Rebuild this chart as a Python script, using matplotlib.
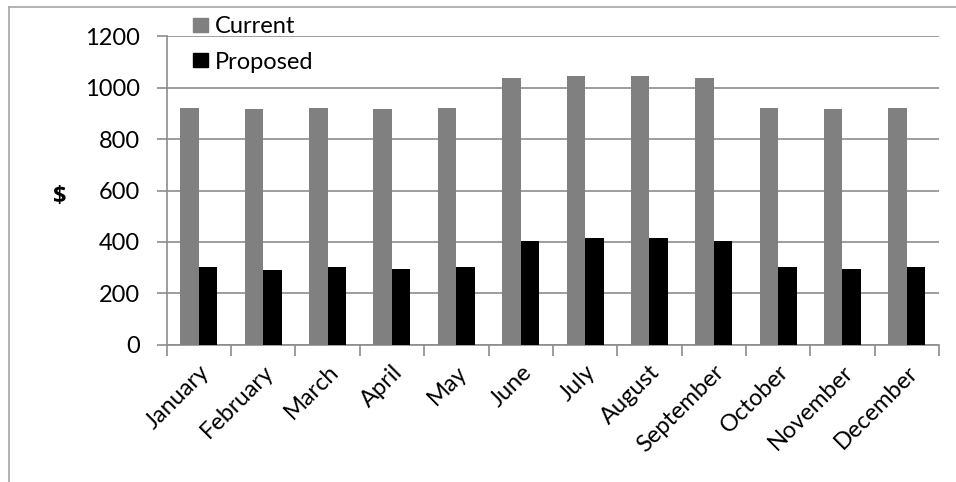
import matplotlib
matplotlib.use("Agg")
import matplotlib.pyplot as plt
import numpy as np
from matplotlib.lines import Line2D
from matplotlib.patches import Patch

plt.rcParams['font.family'] = ['Lato', 'DejaVu Sans']

months = ["January", "February", "March", "April", "May", "June", "July",
          "August", "September", "October", "November", "December"]
current = [922, 916, 922, 917, 922, 1039, 1047, 1047, 1036, 922, 917, 922]
proposed = [302, 289, 302, 294, 302, 402, 416, 416, 403, 302, 294, 302]
y_ticks = [0, 200, 400, 600, 800, 1000, 1200]

grid_gray = "#8c8c8c"
bar_gray = "#808080"
fs = 17

fig = plt.figure(figsize=(9.56, 4.82), dpi=100)
ax = fig.add_axes([0.1744, 0.2848, 0.9822 - 0.1744, 0.9247 - 0.2848])

x = np.arange(len(months))
w = 0.287
ax.bar(x - w / 2, current, width=w, color=bar_gray, zorder=3, label="Current")
ax.bar(x + w / 2, proposed, width=w, color="black", zorder=3, label="Proposed")

ax.set_xlim(-0.5, len(months) - 0.5)
ax.set_ylim(0, 1200)
ax.set_yticks(y_ticks)
ax.set_yticklabels([str(v) for v in y_ticks], fontsize=fs)
ax.yaxis.grid(True, color=grid_gray, linewidth=1.2, zorder=0)
ax.tick_params(axis='y', length=7, width=1.2, color=grid_gray, pad=12)

# category boundary ticks on the x axis
ax.set_xticks(np.arange(-0.5, len(months) + 0.5, 1.0))
ax.set_xticklabels([])
ax.tick_params(axis='x', which='major', length=8, width=1.2, color=grid_gray)
ax.set_xticks(x, minor=True)
ax.set_xticklabels(months, minor=True, rotation=45, ha='right', va='top',
                   rotation_mode='anchor', fontsize=fs)
ax.tick_params(axis='x', which='minor', length=0, pad=12)

for side in ("top", "right"):
    ax.spines[side].set_visible(False)
for side in ("left", "bottom"):
    ax.spines[side].set_color(grid_gray)
    ax.spines[side].set_linewidth(1.2)

fig.text(60 / 956, 1 - 197 / 482, "$", fontsize=fs, fontweight='bold',
         family=['Open Sans', 'DejaVu Sans'], ha='center', va='center')

handles = [Patch(color=bar_gray, label="Current"),
           Patch(color="black", label="Proposed")]
fig.legend(handles=handles, loc='upper left', bbox_to_anchor=(0.202, 0.966),
           frameon=False, fontsize=fs, handlelength=0.64, handleheight=0.55,
           handletextpad=0.3, labelspacing=0.6, borderpad=0, borderaxespad=0)

# outer chart border (left and top edges)
fig.add_artist(Line2D([9 / 956, 9 / 956], [0, 1 - 7 / 482],
                      transform=fig.transFigure, color="#a6a6a6", linewidth=1.2))
fig.add_artist(Line2D([9 / 956, 1], [1 - 7 / 482, 1 - 7 / 482],
                      transform=fig.transFigure, color="#a6a6a6", linewidth=1.2))

fig.savefig("out.png", dpi=100)
